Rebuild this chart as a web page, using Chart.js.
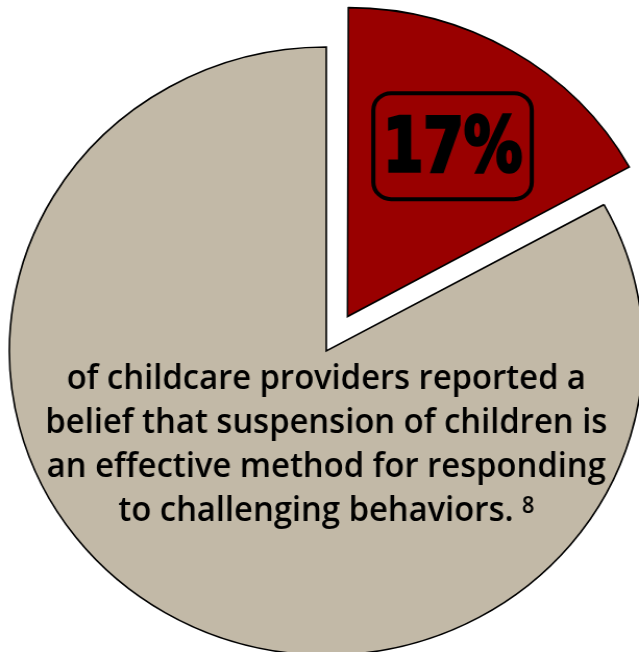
<!DOCTYPE html>
<html>
<head>
<meta charset="utf-8">
<script src="https://cdn.jsdelivr.net/npm/chart.js@4.4.1/dist/chart.umd.min.js"></script>
<style>
  html, body { margin: 0; padding: 0; background: #fff; overflow: hidden; }
  #wrap { width: 639px; height: 652px; position: relative; overflow: hidden; }
  /* the source picture is slightly wider than tall, so the canvas is stretched a bit */
  #pie_chart { display: block; width: 639px; height: 652px; }
</style>
</head>
<body>
<div id="wrap">
  <canvas id="pie_chart" width="613" height="652" style="width:639px;height:652px"></canvas>
</div>
<script>
// data
const categories = ['Believe suspension is effective', 'Other providers'];
const shares = [17, 83];
const captionLines = [
    'of childcare providers reported a',
    'belief that suspension of children is',
    'an effective method for responding',
    'to challenging behaviors.'
];
const footnote = '8';

const sliceColors = ['#990000', '#c2b9a7'];
const captionFont = '600 35px "Open Sans"';
const noteFont = '600 23px "Open Sans"';

const labelPlugin = {
    id: 'labelPlugin',
    afterDatasetsDraw(chart) {
        const ctx = chart.ctx;
        const arc = chart.getDatasetMeta(0).data[0];
        const p = arc.getProps(['x', 'y', 'startAngle', 'endAngle'], true);
        const mid = (p.startAngle + p.endAngle) / 2;
        const dist = arc.options.offset / 4 + 198;
        const cx = p.x + Math.cos(mid) * dist;
        const cy = p.y + Math.sin(mid) * dist;

        // rounded box with the percentage
        ctx.save();
        ctx.lineWidth = 4;
        ctx.strokeStyle = '#000';
        ctx.beginPath();
        ctx.roundRect(cx - 76, cy - 53, 152, 106, 17);
        ctx.stroke();

        ctx.fillStyle = '#000';
        ctx.font = 'bold 74px "DejaVu Sans"';
        ctx.textAlign = 'center';
        ctx.textBaseline = 'alphabetic';
        ctx.lineJoin = 'miter';
        const big = shares[0] + '%';
        const bw = ctx.measureText(big).width;
        const sx = 134 / bw;
        ctx.translate(cx, cy + 25);
        ctx.scale(sx, 1);
        ctx.lineWidth = 3.5;
        ctx.fillText(big, 0, 0);
        ctx.strokeText(big, 0, 0);
        ctx.restore();

        // caption
        ctx.save();
        ctx.fillStyle = '#000';
        ctx.font = captionFont;
        ctx.textBaseline = 'alphabetic';
        ctx.textAlign = 'left';
        const tx = 539 / ctx.measureText(captionLines[1]).width;
        const baselines = [389, 433, 477, 521];
        captionLines.forEach(function(line, i){
            ctx.font = captionFont;
            const w = ctx.measureText(line).width * tx;
            let gap = 0, nw = 0;
            if (i === captionLines.length - 1) {
                gap = ctx.measureText(' ').width * tx;
                ctx.font = noteFont;
                nw = ctx.measureText(footnote).width * tx;
            }
            const left = p.x - (w + gap + nw) / 2;
            ctx.save();
            ctx.translate(left, baselines[i]);
            ctx.scale(tx, 1);
            ctx.font = captionFont;
            ctx.fillText(line, 0, 0);
            ctx.restore();
            if (nw > 0) {
                ctx.save();
                ctx.translate(left + w + gap, baselines[i] - 8);
                ctx.scale(tx, 1);
                ctx.font = noteFont;
                ctx.fillText(footnote, 0, 0);
                ctx.restore();
            }
        });
        ctx.restore();
    }
};

const ctx = document.getElementById('pie_chart').getContext('2d');
const chart = new Chart(ctx, {
    type: 'pie',
    data: {
        labels: categories,
        datasets: [{
            data: shares,
            backgroundColor: sliceColors,
            borderColor: '#000',
            borderWidth: 1.6,
            borderJoinStyle: 'miter',
            offset: [160, 0]
        }]
    },
    options: {
        responsive: false,
        animation: false,
        events: [],
        radius: 304,
        layout: {
            padding: { left: 13, right: 0, top: 50, bottom: 0 }
        },
        plugins: {
            legend: { display: false },
            tooltip: { enabled: false }
        }
    },
    plugins: [labelPlugin]
});
</script>
</body>
</html>
